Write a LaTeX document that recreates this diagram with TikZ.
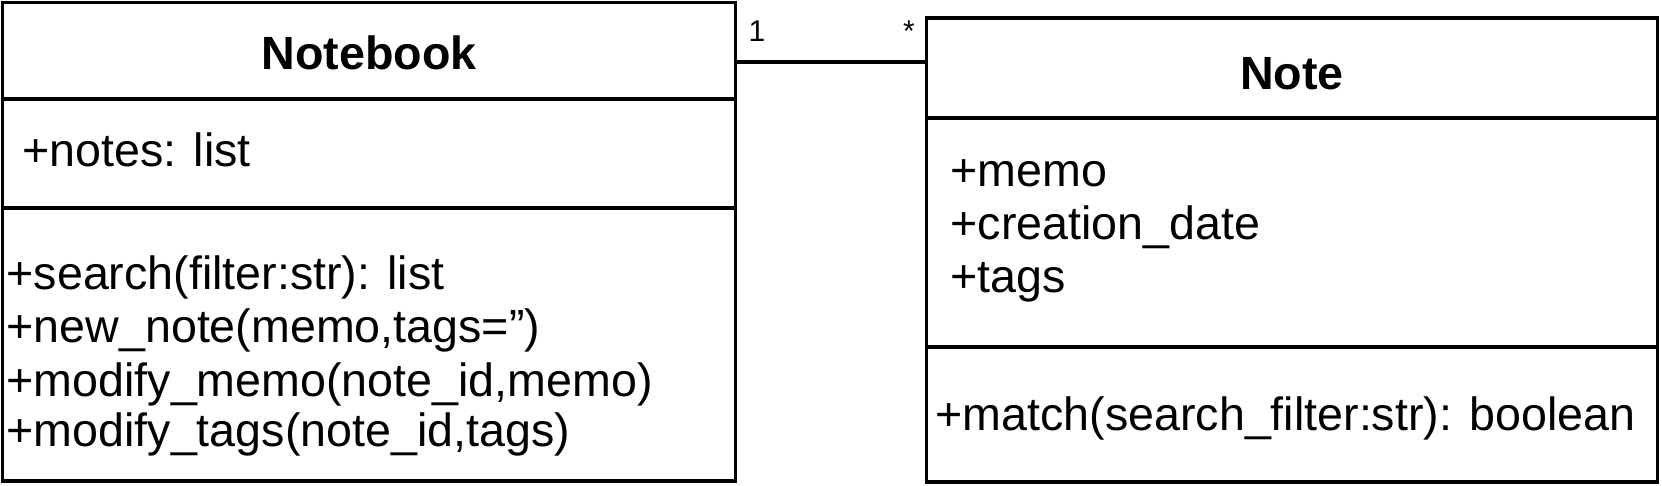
\documentclass[tikz,border=0pt]{standalone}
\usepackage{fontspec}
\setmainfont{Liberation Sans}
\begin{document}
\begin{tikzpicture}[x=0.5pt,y=-0.5pt,line width=1.6pt,
	classbox/.style={draw,inner sep=0pt,outer sep=0pt},
	member/.style={anchor=base west,inner sep=0pt,font=\fontsize{23.3}{26}\selectfont},
	classname/.style={anchor=base,inner sep=0pt,font=\fontsize{23.3}{26}\selectfont\bfseries},
	mult/.style={anchor=base,inner sep=0pt,font=\fontsize{15}{18}\selectfont}]
	\useasboundingbox (0,0) rectangle (1662,486);
	% the two classes
	\node[classbox,minimum width=366.5pt,minimum height=239.25pt](notebook) at (369,241.75) {};
	\node[classbox,minimum width=365.5pt,minimum height=232pt](note) at (1292,250) {};
	\coordinate (nbsepA) at (0,99);
	\coordinate (nbsepB) at (0,208);
	\coordinate (ntsepA) at (0,118);
	\coordinate (ntsepB) at (0,347);
	\coordinate (link) at (0,62);
	\draw (notebook.west |- nbsepA)--(notebook.east |- nbsepA);
	\draw (notebook.west |- nbsepB)--(notebook.east |- nbsepB);
	\draw (note.west |- ntsepA)--(note.east |- ntsepA);
	\draw (note.west |- ntsepB)--(note.east |- ntsepB);
	\draw (notebook.east |- link)--(note.west |- link);
	\node[mult](one) at (757,42) {1};
	\node[mult](many) at (909,42) {*};
	% Notebook
	\node[classname](nbname) at (369,70) {Notebook};
	\node[member](notes) at (21,167) {+notes: list};
	\node[member](search) at (5,290) {+search(filter:str): list};
	\node[member](newnote) at (5,343) {+new\_note(memo,tags='')};
	\node[member](modmemo) at (5,397) {+modify\_memo(note\_id,memo)};
	\node[member](modtags) at (5,447) {+modify\_tags(note\_id,tags)};
	% Note
	\node[classname](ntname) at (1292,90) {Note};
	\node[member](memo) at (949,187) {+memo};
	\node[member](created) at (949,240) {+creation\_date};
	\node[member](tags) at (949,293) {+tags};
	\node[member](match) at (934,430) {+match(search\_filter:str): boolean};
\end{tikzpicture}
\end{document}
